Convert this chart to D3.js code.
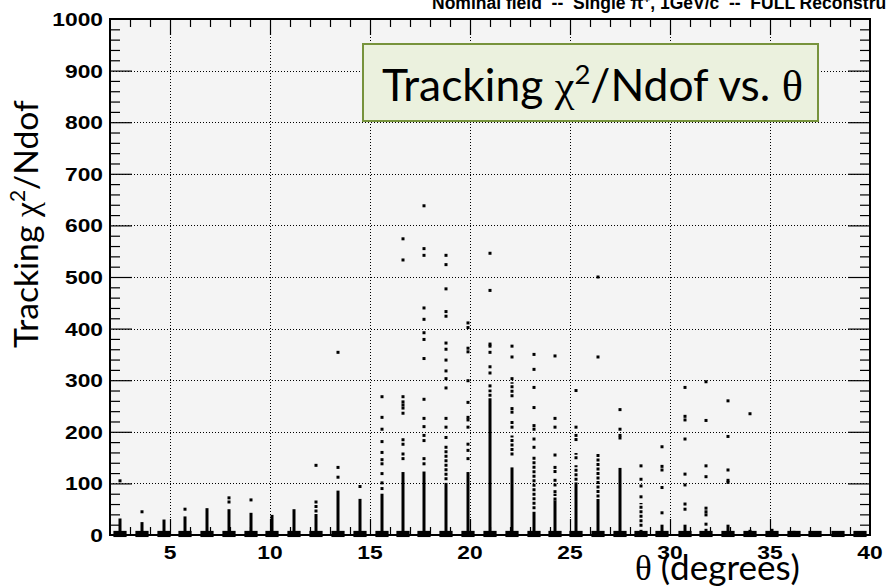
<!DOCTYPE html>
<html>
<head>
<meta charset="utf-8">
<script src="https://cdn.jsdelivr.net/npm/d3@7"></script>
<style>
  body { margin: 0; background: #fff; }
  svg { display: block; }
</style>
</head>
<body>
<script>
// theta of each reconstructed column (degrees)
const thetaCols = [2.5, 3.6, 4.7, 5.75, 6.85, 7.95, 9.05, 10.1, 11.2, 12.3, 13.4, 14.5, 15.6, 16.65, 17.7,
  18.8, 19.9, 21.0, 22.1, 23.2, 24.25, 25.3, 26.4, 27.5, 28.55, 29.6, 30.75, 31.8, 32.9, 34.0, 35.1,
  36.2, 37.25, 38.4, 39.5];

// top of the dense (solid) part of each column, chi2/Ndof
const coreTop = [32, 25, 30, 36, 52, 50, 43, 39, 50, 35, 86, 70, 80, 122, 123,
  101, 122, 265, 131, 45, 67, 102, 64, 130, 10, 20, 20, 12, 20, 10, 12,
  8, 7, 6, 6];

// isolated entries above the dense part, per column
const outlierVals = [
  [105], [45], [], [50], [], [72, 64], [68], [], [],
  [135],
  [354, 131, 112],
  [94],
  [268, 228, 205, 181, 160, 146, 138, 119, 101, 90],
  [574, 533, 268, 258, 252, 246, 236, 157, 148],
  [638, 555, 542, 440, 418, 392, 379, 342, 263, 226, 210, 193, 183, 148, 138],
  [542, 524, 477, 433, 424, 372, 360, 339, 318, 303, 285, 226, 209, 189],
  [411, 402, 362, 355, 299, 257, 228, 223, 209, 176, 164, 148],
  [546, 474, 370, 366, 354, 326, 314, 289],
  [366, 345, 303, 245, 238, 218, 209],
  [350, 321, 286, 247, 212, 205, 186, 170],
  [347, 226, 209, 155, 131, 123, 106, 97, 84],
  [280, 209, 193, 185],
  [500, 345],
  [243, 205, 193, 188],
  [134, 108, 95, 74],
  [171, 133, 126, 92, 43],
  [286, 230, 223, 186, 118, 97, 60, 50],
  [297, 222, 134, 113, 52, 45, 39, 21],
  [260, 191, 126, 106, 102],
  [235], [], [], [], [], []
];

// stretches of densely packed entries: [theta, low, high]
const stippleSegs = [
  [12.3, 35, 67], [16.65, 173, 190], [18.8, 106, 175], [21.0, 268, 282],
  [22.1, 267, 296], [22.1, 154, 193], [23.2, 50, 154],
  [25.3, 105, 135], [25.3, 147, 159], [26.4, 64, 157], [24.25, 67, 80], [28.55, 16, 62]
];

const xTicks = [5, 10, 15, 20, 25, 30, 35, 40];
const yTicks = [0, 100, 200, 300, 400, 500, 600, 700, 800, 900, 1000];

const W = 886, H = 588;
const fx0 = 110, fx1 = 870, fy0 = 19, fy1 = 535;

const x = d3.scaleLinear().domain([2, 40]).range([fx0, fx1]);
const y = d3.scaleLinear().domain([0, 1000]).range([fy1, fy0]);

const svg = d3.select("body").append("svg")
  .attr("width", W).attr("height", H)
  .attr("xmlns", "http://www.w3.org/2000/svg");

svg.append("rect").attr("width", W).attr("height", H).attr("fill", "#fff");

// plot area
svg.append("rect")
  .attr("x", fx0).attr("y", fy0)
  .attr("width", fx1 - fx0).attr("height", fy1 - fy0)
  .attr("fill", "#f4f4f4");

// dotted grid
const grid = svg.append("g").attr("stroke", "#000").attr("stroke-width", 1)
  .attr("stroke-dasharray", "1,2");
grid.selectAll(".gx").data(xTicks.filter(d => d < 40)).enter().append("line")
  .attr("x1", d => Math.round(x(d)) + 0.5).attr("x2", d => Math.round(x(d)) + 0.5)
  .attr("y1", fy0).attr("y2", fy1);
grid.selectAll(".gy").data(yTicks.filter(d => d > 0 && d < 1000)).enter().append("line")
  .attr("y1", d => Math.round(y(d)) + 0.5).attr("y2", d => Math.round(y(d)) + 0.5)
  .attr("x1", fx0).attr("x2", fx1);

// data
const marks = svg.append("g").attr("fill", "#000");
const baseHalf = 0.33;

marks.selectAll(".base").data(thetaCols).enter().append("rect")
  .attr("x", d => x(d - baseHalf)).attr("width", d => x(d + baseHalf) - x(d - baseHalf))
  .attr("y", y(8)).attr("height", y(-4) - y(8));

marks.selectAll(".core").data(thetaCols).enter().append("rect")
  .attr("x", d => x(d) - 1.5).attr("width", 3)
  .attr("y", (d, i) => y(coreTop[i])).attr("height", (d, i) => y(0) - y(coreTop[i]));

svg.append("g").selectAll("line").data(stippleSegs).enter().append("line")
  .attr("x1", d => x(d[0])).attr("x2", d => x(d[0]))
  .attr("y1", d => y(d[1])).attr("y2", d => y(d[2]))
  .attr("stroke", "#000").attr("stroke-width", 3)
  .attr("stroke-dasharray", "3,1.5");

const pts = [];
thetaCols.forEach((t, i) => outlierVals[i].forEach(v => pts.push([t, v])));
marks.selectAll(".pt").data(pts).enter().append("rect")
  .attr("x", d => x(d[0]) - 1.5).attr("y", d => y(d[1]) - 1.5)
  .attr("width", 3).attr("height", 3);

// ticks (ROOT style, on all four sides, pointing inward)
function ticks(axisFn, scale, vals, size, tr) {
  const g = svg.append("g").attr("transform", tr)
    .call(axisFn(scale).tickValues(vals).tickSize(size).tickFormat(""));
  g.select(".domain").remove();
  g.selectAll("line").attr("stroke", "#000").attr("stroke-width", 1.2);
}
const xMinor = d3.range(3, 40).filter(d => d % 5 !== 0);
const yMinor = d3.range(20, 1000, 20).filter(d => d % 100 !== 0);
const xMajor = xTicks.filter(d => d < 40);
const yMajor = yTicks.filter(d => d > 0 && d < 1000);

ticks(d3.axisTop, x, xMinor, 8, `translate(0,${fy1})`);
ticks(d3.axisTop, x, xMajor, 16, `translate(0,${fy1})`);
ticks(d3.axisBottom, x, xMinor, 8, `translate(0,${fy0})`);
ticks(d3.axisBottom, x, xMajor, 16, `translate(0,${fy0})`);
ticks(d3.axisRight, y, yMinor, 10, `translate(${fx0},0)`);
ticks(d3.axisRight, y, yMajor, 22, `translate(${fx0},0)`);
ticks(d3.axisLeft, y, yMinor, 10, `translate(${fx1},0)`);
ticks(d3.axisLeft, y, yMajor, 22, `translate(${fx1},0)`);

// frame
svg.append("rect")
  .attr("x", fx0).attr("y", fy0)
  .attr("width", fx1 - fx0).attr("height", fy1 - fy0)
  .attr("fill", "none").attr("stroke", "#000").attr("stroke-width", 2);

// tick labels
const lab = svg.append("g")
  .attr("font-family", "'Liberation Sans', Arial, sans-serif")
  .attr("font-weight", "bold").attr("font-size", 19).attr("fill", "#000");

lab.selectAll(".xl").data(xTicks).enter().append("text")
  .attr("transform", d => `translate(${x(d)},559) scale(1.2,1)`)
  .attr("text-anchor", "middle").text(d => d);

lab.selectAll(".yl").data(yTicks).enter().append("text")
  .attr("transform", d => `translate(103,${y(d) + 7}) scale(1.2,1)`)
  .attr("text-anchor", "end").text(d => d);

// top title (partly cut off, as in the slide)
svg.append("text")
  .attr("x", 432).attr("y", 9)
  .attr("font-family", "'Liberation Sans', Arial, sans-serif")
  .attr("font-weight", "bold").attr("font-size", 17.5)
  .html("Nominal field&#160;&#160;--&#160;&#160;Single &#960;<tspan dy='-6' font-size='11'>+</tspan><tspan dy='6'>, 1GeV/c&#160;&#160;--&#160;&#160;FULL Reconstruction</tspan>");

function fit(sel, target) {
  const w = sel.node().getComputedTextLength();
  const fs = parseFloat(sel.attr("font-size"));
  sel.attr("font-size", fs * target / w);
}

const sans = "Lato, 'Open Sans', sans-serif";
const serif = "'Liberation Serif', 'DejaVu Serif', serif";

// annotation box
svg.append("rect")
  .attr("x", 363).attr("y", 44).attr("width", 455).attr("height", 77)
  .attr("fill", "#ebf1de").attr("stroke", "#77933c").attr("stroke-width", 2);

const boxText = svg.append("text")
  .attr("x", 382).attr("y", 101)
  .attr("font-family", sans).attr("font-size", 34).attr("fill", "#000");
boxText.append("tspan").text("Tracking ");
boxText.append("tspan").attr("font-family", serif).text("\u03c7");
boxText.append("tspan").attr("font-size", "0.62em").attr("dy", "-0.6em").text("2");
boxText.append("tspan").attr("dy", "0.37em").text("/Ndof vs. ");
boxText.append("tspan").attr("font-family", serif).text("\u03b8");
fit(boxText, 421);

// y axis title
const yTitle = svg.append("text")
  .attr("transform", "translate(38,348) rotate(-90)")
  .attr("font-family", sans).attr("font-size", 28).attr("fill", "#000");
yTitle.append("tspan").text("Tracking ");
yTitle.append("tspan").attr("font-family", serif).text("\u03c7");
yTitle.append("tspan").attr("font-size", "0.62em").attr("dy", "-0.6em").text("2");
yTitle.append("tspan").attr("dy", "0.37em").text("/Ndof");
fit(yTitle, 248);

// x axis title
const xTitle = svg.append("text")
  .attr("x", 635).attr("y", 580)
  .attr("font-family", sans).attr("font-size", 30).attr("fill", "#000");
xTitle.append("tspan").attr("font-family", serif).text("\u03b8");
xTitle.append("tspan").text(" (degrees)");
fit(xTitle, 165);
</script>
</body>
</html>
